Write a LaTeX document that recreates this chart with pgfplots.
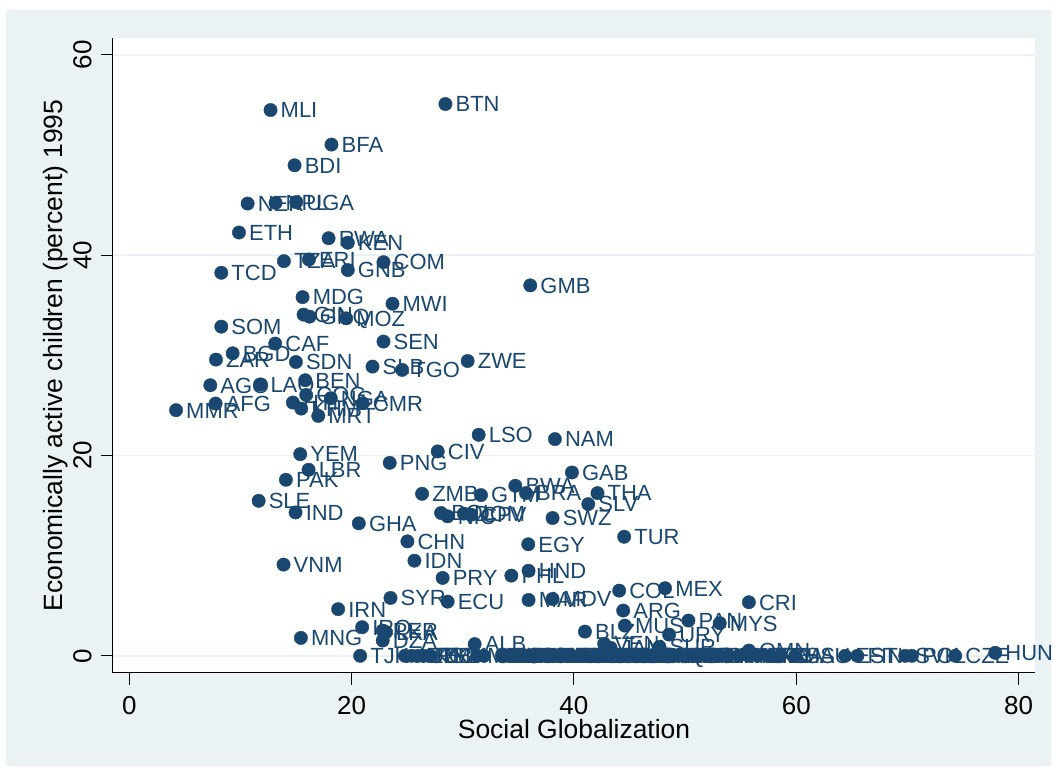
\documentclass[border=0pt]{standalone}
\usepackage{fontspec}
\setmainfont{Liberation Sans}
\usepackage{pgfplots}
\usepackage{pgfplotstable}
\pgfplotsset{compat=1.18}
\definecolor{stnavy}{RGB}{26,71,111}
\definecolor{stbg}{RGB}{234,242,243}
\pgfplotstableread{
label x y
MLI 12.71 54.5
BTN 28.44 55.1
BFA 18.19 51.05
BDI 14.87 48.98
NER 10.65 45.16
NPL 13.16 45.23
UGA 15.02 45.30
ETH 9.87 42.27
RWA 17.93 41.70
KEN 19.66 41.25
TZA 13.91 39.41
ERI 16.16 39.58
COM 22.87 39.31
GNB 19.66 38.52
TCD 8.28 38.25
GMB 36.07 36.99
MDG 15.59 35.82
MWI 23.68 35.16
GIN 15.68 34.07
GNQ 16.22 33.87
MOZ 19.51 33.70
SOM 8.28 32.87
CAF 13.13 31.18
SEN 22.87 31.38
BGD 9.30 30.21
ZAR 7.80 29.58
SDN 14.99 29.34
SLB 21.88 28.88
TGO 24.55 28.55
ZWE 30.44 29.44
AGO 7.29 27.02
LAO 11.79 27.09
BEN 15.83 27.52
COG 15.92 26.05
NGA 18.13 25.72
CMR 21.00 25.22
MMR 4.21 24.53
AFG 7.77 25.19
HTI 14.72 25.29
KHM 15.47 24.69
MRT 17.00 23.96
YEM 15.38 20.14
LBR 16.13 18.58
PAK 14.09 17.58
SLE 11.64 15.48
IND 14.96 14.32
GHA 20.65 13.23
CHN 25.02 11.43
IDN 25.65 9.50
VNM 13.88 9.11
PNG 23.43 19.27
CIV 27.75 20.41
LSO 31.43 22.07
NAM 38.29 21.64
GAB 39.82 18.31
ZMB 26.34 16.18
GTM 31.64 16.05
BWA 34.73 16.98
BRA 35.69 16.25
THA 42.12 16.25
SLV 41.29 15.15
BOL 28.05 14.26
NIC 28.64 13.93
DOM 30.10 14.20
CPV 30.75 14.09
SWZ 38.08 13.76
TUR 44.52 11.89
EGY 35.89 11.14
HND 35.92 8.50
PHL 34.37 8.01
PRY 28.19 7.78
COL 44.07 6.51
MEX 48.20 6.75
CRI 55.74 5.35
SYR 23.50 5.78
ECU 28.64 5.41
IRN 18.79 4.66
MAR 35.92 5.58
MDV 38.08 5.68
ARG 44.43 4.52
MUS 44.58 3.02
PAN 50.30 3.52
MYS 53.12 3.26
URY 48.56 2.12
BLZ 40.99 2.42
IRQ 20.95 2.86
PER 22.80 2.52
LKA 23.10 2.36
MNG 15.44 1.79
DZA 22.80 1.53
ALB 31.07 1.17
VEN 42.72 1.20
JAM 43.30 0.80
SUR 47.70 0.90
OMN 55.74 0.53
TJK 20.77 0.00
AZE 24.80 0.00
ARM 25.40 0.00
UZB 26.00 0.00
KGZ 26.50 0.00
TKM 27.10 0.00
MDA 31.30 0.00
GEO 31.90 0.00
TUN 33.60 0.00
LBY 34.30 0.00
JOR 35.00 0.00
ROM 35.70 0.00
BIH 36.40 0.00
MKD 37.00 0.00
KAZ 37.70 0.00
LTU 38.40 0.00
LVA 39.10 0.00
UKR 39.80 0.00
BGR 40.50 0.00
BLR 41.20 0.00
RUS 41.90 0.00
CHL 42.50 0.00
TTO 43.20 0.00
CUB 43.90 0.00
HRV 44.60 0.00
KOR 45.40 0.00
LBN 46.20 0.00
SGP 47.00 0.00
ARE 47.80 0.00
KWT 48.60 0.00
QAT 49.40 0.00
ISR 50.30 0.00
BHR 51.20 0.00
CYP 52.10 0.00
BRN 53.00 0.00
HKG 53.90 0.00
MLT 54.80 0.00
MAC 55.70 0.00
BRB 56.50 0.00
KNA 57.50 0.00
BHS 58.50 0.00
SAU 59.90 0.00
EST 64.40 0.00
FIN 65.50 0.00
SVK 69.80 0.00
POL 70.40 0.00
CZE 74.30 0.00
HUN 77.90 0.30
}\countries
\begin{document}
\begin{tikzpicture}[x=1pt,y=1pt]
\fill[white] (0,0) rectangle (1053,773);
\fill[stbg] (6,6) rectangle (1053,763);
\begin{axis}[
 at={(113pt,99pt)}, anchor=south west,
 width=924pt, height=636pt, scale only axis,
 xmin=-1.48, xmax=81.5, ymin=-1.7, ymax=61.7,
 axis x line*=bottom, axis y line*=left,
 axis line style={-, black, line width=1pt},
 axis background/.style={fill=white},
 xtick={0,20,40,60,80}, ytick={0,20,40,60},
 tick align=outside, major tick length=12pt,
 tick style={black, line width=1pt},
 /pgf/number format/assume math mode=true,
 tick label style={font=\fontsize{26}{30}\selectfont, text=black},
 yticklabel style={xshift=-9pt, rotate=90, anchor=south, inner sep=0pt},
 xticklabel style={yshift=-11pt, anchor=north, inner sep=0pt},
 ymajorgrids, grid style={stbg, line width=1.8pt},
 clip=false,
 xlabel={Social Globalization},
 ylabel={Economically active children (percent) 1995},
 every axis x label/.style={at={(axis description cs:0.5,-0.10377)}, anchor=base, font=\fontsize{26.5}{30}\selectfont},
 every axis y label/.style={at={(axis description cs:-0.05411,0.5)}, rotate=90, anchor=base, font=\fontsize{26.5}{30}\selectfont},
]
\addplot[only marks, mark=*, mark size=6.7pt, color=stnavy,
  nodes near coords, point meta=explicit symbolic,
  nodes near coords style={anchor=west, xshift=10pt, inner sep=0pt, text=stnavy,
    font=\fontsize{22}{22}\selectfont, text height=15.7pt, text depth=0pt}]
  table[x=x, y=y, meta=label] {\countries};
\end{axis}
\useasboundingbox (0,0) rectangle (1053,773);
\end{tikzpicture}
\end{document}
